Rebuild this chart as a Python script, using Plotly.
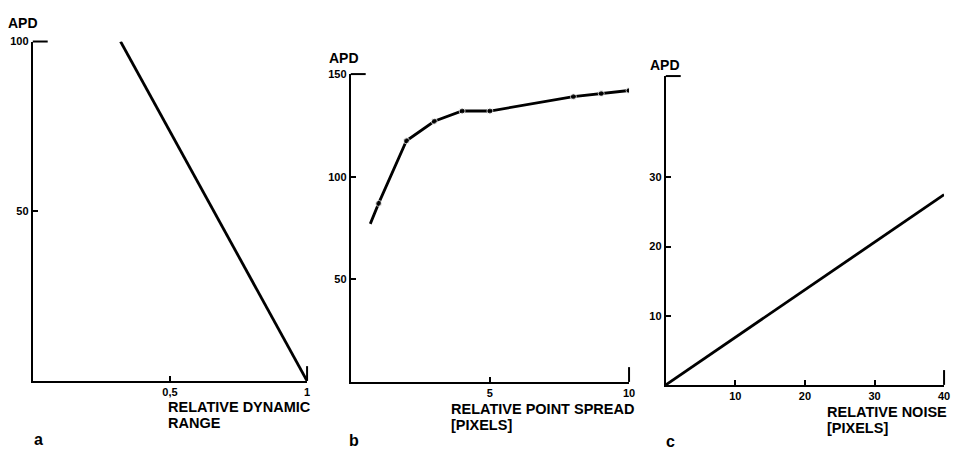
import plotly.graph_objects as go

# ---- data ----
a_x = [0.32, 1.0]
a_y = [100, 0]
a_xticks = [0.5, 1]
a_xticktext = ["0,5", "1"]
a_yticks = [50, 100]

b_x = [0.7, 1, 2, 3, 4, 5, 8, 9, 10]
b_y = [77, 87, 117.5, 127, 132, 132, 139, 140.5, 142]
b_marker = [0, 6, 6, 6, 6, 6, 6, 6, 6]
b_xticks = [5, 10]
b_yticks = [50, 100, 150]

c_x = [0, 40]
c_y = [0, 27.5]
c_xticks = [10, 20, 30, 40]
c_yticks = [10, 20, 30]

W, H = 960, 451
FONT = "Liberation Sans"


def fx(px):
    return px / W


def fy(py):
    return (H - py) / H


fig = go.Figure()
fig.add_trace(go.Scatter(x=a_x, y=a_y, mode="lines", line=dict(color="black", width=2.8),
                         xaxis="x", yaxis="y", showlegend=False))
fig.add_trace(go.Scatter(x=b_x, y=b_y, mode="lines+markers", line=dict(color="black", width=2.8),
                         marker=dict(size=b_marker, color="black"),
                         xaxis="x2", yaxis="y2", showlegend=False))
fig.add_trace(go.Scatter(x=c_x, y=c_y, mode="lines", line=dict(color="black", width=2.8),
                         xaxis="x3", yaxis="y3", showlegend=False))

tickfont = dict(family=FONT, size=11, color="black", weight="bold")
common = dict(showline=True, linecolor="black", linewidth=2, ticks="inside", ticklen=5,
              tickwidth=1.5, tickcolor="black", showgrid=False, zeroline=False,
              tickfont=tickfont, fixedrange=True)

panels = [
    ("xaxis", "yaxis", (33, 309), (380, 36), [0, 1], [0, 100], a_xticks, a_xticktext, a_yticks),
    ("xaxis2", "yaxis2", (353, 633), (381, 69), [0, 10], [0, 150], b_xticks, [str(v) for v in b_xticks], b_yticks),
    ("xaxis3", "yaxis3", (670, 950), (384, 71), [0, 40], [0, 44.65], c_xticks, [str(v) for v in c_xticks], c_yticks),
]

layout = dict(width=W, height=H, margin=dict(l=0, r=0, t=0, b=0),
              paper_bgcolor="white", plot_bgcolor="white", showlegend=False)
shapes = []
for i, (xa, ya, xd, yd, xr, yr, xt, xtt, yt) in enumerate(panels):
    suffix = "" if i == 0 else str(i + 1)
    layout[xa] = dict(domain=[fx(xd[0]), fx(xd[1])], range=xr, anchor="y" + suffix,
                      tickmode="array", tickvals=xt, ticktext=xtt, **common)
    layout[ya] = dict(domain=[fy(yd[0]), fy(yd[1])], range=yr, anchor="x" + suffix,
                      tickmode="array", tickvals=yt, **common)
    shapes.append(dict(type="line", xref="x" + suffix + " domain", yref="y" + suffix + " domain",
                       x0=0, x1=15 / (xd[1] - xd[0]), y0=1, y1=1,
                       line=dict(color="black", width=2)))
    shapes.append(dict(type="line", xref="x" + suffix + " domain", yref="y" + suffix + " domain",
                       x0=1, x1=1, y0=0, y1=15 / (yd[0] - yd[1]),
                       line=dict(color="black", width=2)))
layout["shapes"] = shapes

lab = dict(family=FONT, size=14, color="black")
title = dict(family=FONT, size=14.5, color="black")
letter = dict(family=FONT, size=16, color="black")
annotations = [
    dict(text="<b>APD</b>", x=fx(6), y=fy(17), font=lab),
    dict(text="<b>APD</b>", x=fx(329), y=fy(53), font=lab),
    dict(text="<b>APD</b>", x=fx(652), y=fy(60), font=lab),
    dict(text="<b>RELATIVE DYNAMIC</b>", x=fx(167), y=fy(406), font=title),
    dict(text="<b>RANGE</b>", x=fx(167), y=fy(423), font=title),
    dict(text="<b>RELATIVE POINT SPREAD</b>", x=fx(452), y=fy(408), font=title),
    dict(text="<b>[PIXELS]</b>", x=fx(452), y=fy(425), font=title),
    dict(text="<b>RELATIVE NOISE</b>", x=fx(830), y=fy(411), font=title),
    dict(text="<b>[PIXELS]</b>", x=fx(830), y=fy(428), font=title),
    dict(text="<b>a</b>", x=fx(32), y=fy(439), font=letter),
    dict(text="<b>b</b>", x=fx(349), y=fy(440), font=letter),
    dict(text="<b>c</b>", x=fx(668), y=fy(441), font=letter),
]
for a in annotations:
    a.update(xref="paper", yref="paper", xanchor="left", yanchor="middle", showarrow=False)
layout["annotations"] = annotations

fig.update_layout(**layout)
fig.write_html("out.html")
